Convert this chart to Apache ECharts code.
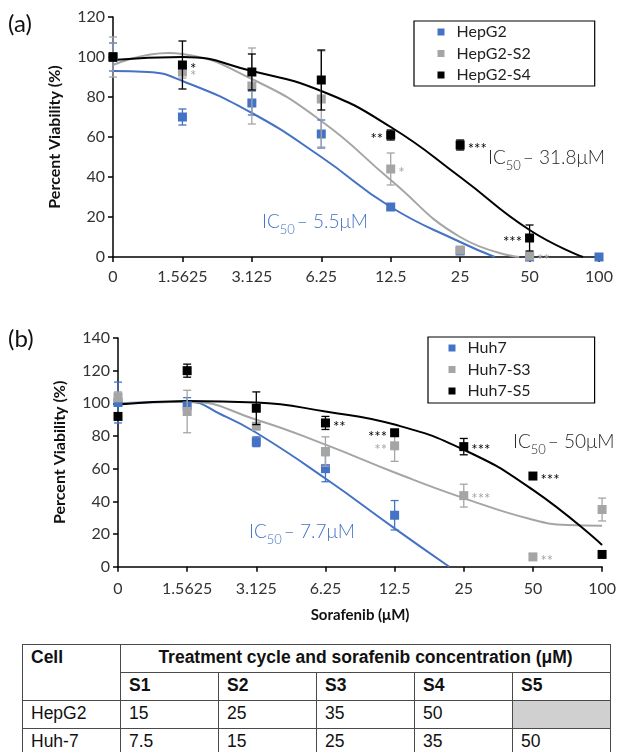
<!DOCTYPE html>
<html>
<head>
<meta charset="utf-8">
<script src="https://cdn.jsdelivr.net/npm/echarts@6/dist/echarts.min.js"></script>
<style>
  body { margin: 0; background: #fff; }
  #chart { position: absolute; left: 0; top: 0; width: 619px; height: 640px; }
  #tbl {
    position: absolute; left: 22px; top: 644px; width: 589px;
    border-collapse: collapse; table-layout: fixed;
    font-family: "Liberation Sans", Arial, sans-serif; font-size: 17.5px; color: #111;
  }
  #tbl td { border: 1.5px solid #4a4a4a; padding: 0 8px 3px 8px; height: 24px; vertical-align: middle; white-space: nowrap; overflow: hidden; }
  #tbl .b { font-weight: bold; }
  #tbl .top { vertical-align: top; padding-top: 2px; }
  #tbl .c { text-align: center; }
  #tbl .gray { background: #d0d0d0; }
</style>
</head>
<body>
<div id="chart"></div>
<table id="tbl"></table>
<script>
// x categories (log2 dilution series of sorafenib, uM)
var doseLabels = ['0', '1.5625', '3.125', '6.25', '12.5', '25', '50', '100'];

// (a) HepG2 lines: mean viability and error
var hepG2 = [100, 70, 77, 61.5, 25, 3, 0, 0];
var hepG2Err = [7, 4, 6, 7, 1, 0, 0, 0];
var hepG2S2 = [100, 92.5, 85.5, 79, 44, 3.5, 0.5, null];
var hepG2S2Err = [10, 3, 19, 24, 8, 0, 0, 0];
var hepG2S4 = [100, 96, 92.5, 88.5, 61, 56, 9.5, null];
var hepG2S4Err = [2, 12, 9, 15, 2.5, 2.5, 6.5, 0];
var hepG2S2Stars = ['', '*', '', '', '*', '', '**', ''];
var hepG2S4Stars = ['', '*', '', '', '**', '***', '***', ''];

// (a) fitted curves [x index, viability]
var hepG2Fit = [[0, 93], [0.5, 92.5], [1, 88], [2, 72], [3, 50], [4, 25], [5, 7.5], [5.5, 0]];
var hepG2S2Fit = [[0, 96], [0.8, 102], [1, 101.5], [2, 89], [3, 68], [4, 38.5], [5, 10], [5.85, 0]];
var hepG2S4Fit = [[0, 98.5], [1, 100], [2, 93], [3, 83], [4, 65], [5, 40], [6, 13.5], [6.77, 0]];

// (b) Huh7 lines
var huh7 = [100.5, 98.5, 76.5, 60, 31.5, null, null, null];
var huh7Err = [12.5, 5, 3, 8, 9, 0, 0, 0];
var huh7S3 = [104, 95, 86, 70.5, 74, 43.5, 6, 35];
var huh7S3Err = [3, 13, 0, 9, 9.5, 7, 0, 7];
var huh7S5 = [92, 120, 97, 88, 82, 73.5, 55.5, 7.5];
var huh7S5Err = [0, 4, 10, 4, 0, 5, 0, 0];
var huh7S3Stars = ['', '', '', '', '**', '***', '**', ''];
var huh7S5Stars = ['', '', '', '**', '***', '***', '***', ''];

// (b) fitted curves
var huh7Fit = [[0, 100], [1, 101], [1.5, 93], [2, 82], [3, 54], [4, 23.5], [4.79, 0]];
var huh7S3Fit = [[0, 100], [1, 101], [2, 90], [3, 74.7], [4, 57.7], [5, 42], [6, 28.7], [6.5, 25.5], [7, 25]];
var huh7S5Fit = [[0, 99.3], [1, 101.5], [2, 100.5], [3, 95], [4, 87], [5, 71.6], [6, 47], [7, 13.3]];

// treatment table
var tableCycles = ['S1', 'S2', 'S3', 'S4', 'S5'];
var tableRows = [
  ['HepG2', ['15', '25', '35', '50', null]],
  ['Huh-7', ['7.5', '15', '25', '35', '50']]
];

var BLUE = '#4472C4', GREY = '#A5A5A5', BLACK = '#000000';
var FONT = 'Lato';

function fitLine(gi, pts, color) {
    return {
        type: 'line', xAxisIndex: gi, yAxisIndex: gi,
        data: pts, smooth: 0.5, symbol: 'none', silent: true,
        lineStyle: { color: color, width: 2 }, z: 2
    };
}

function errBars(gi, vals, errs, color, z) {
    var data = [];
    for (var i = 0; i < vals.length; i++) {
        if (vals[i] != null && errs[i] > 0) data.push([i, vals[i], errs[i]]);
    }
    return {
        type: 'custom', xAxisIndex: gi, yAxisIndex: gi, data: data, z: z, silent: true,
        renderItem: function (params, api) {
            var x = api.value(0), y = api.value(1), e = api.value(2);
            var t = api.coord([x, y + e]), b = api.coord([x, y - e]);
            var st = { stroke: color, lineWidth: 1.3 };
            return {
                type: 'group', children: [
                    { type: 'line', shape: { x1: t[0], y1: t[1], x2: b[0], y2: b[1] }, style: st },
                    { type: 'line', shape: { x1: t[0] - 4, y1: t[1], x2: t[0] + 4, y2: t[1] }, style: st },
                    { type: 'line', shape: { x1: b[0] - 4, y1: b[1], x2: b[0] + 4, y2: b[1] }, style: st }
                ]
            };
        }
    };
}

// leftOf: indexes whose star label sits left of the square
function points(name, gi, vals, stars, leftOf, color, z) {
    var data = [];
    for (var i = 0; i < vals.length; i++) {
        if (vals[i] == null) continue;
        var item = { value: [i, vals[i]] };
        if (stars && stars[i]) {
            item.label = {
                show: true, formatter: stars[i],
                position: leftOf.indexOf(i) >= 0 ? 'left' : 'right',
                distance: 3, offset: [0, 4],
                color: color, fontSize: 15, fontFamily: FONT
            };
        }
        data.push(item);
    }
    return {
        type: 'scatter', name: name, xAxisIndex: gi, yAxisIndex: gi,
        symbol: 'rect', symbolSize: 9, data: data, z: z,
        itemStyle: { color: color, opacity: 1 }
    };
}

function xAxis(gi, margin, name) {
    return {
        gridIndex: gi, type: 'value', min: 0, max: 7, interval: 1,
        name: name || '', nameLocation: 'middle', nameGap: 41,
        nameTextStyle: { fontFamily: FONT, fontWeight: 'bold', fontSize: 15, color: '#111' },
        axisLine: { lineStyle: { color: '#000', width: 1.5 } },
        axisTick: { show: true, length: 5, lineStyle: { color: '#000', width: 1.5 } },
        splitLine: { show: false },
        axisLabel: {
            margin: margin, fontFamily: FONT, fontSize: 16, color: '#333',
            formatter: function (v) { return doseLabels[v]; }
        }
    };
}

function yAxis(gi, max) {
    return {
        gridIndex: gi, type: 'value', min: 0, max: max, interval: 20,
        name: 'Percent Viability (%)', nameLocation: 'middle', nameGap: 50,
        nameTextStyle: { fontFamily: FONT, fontWeight: 'bold', fontSize: 16, color: '#111' },
        axisLine: { show: true, lineStyle: { color: '#000', width: 1.5 } },
        axisTick: { show: true, length: 5, lineStyle: { color: '#000', width: 1.5 } },
        splitLine: { show: false },
        axisLabel: { margin: 8, fontFamily: FONT, fontSize: 16, color: '#333' }
    };
}

function legend(names, left, top, padding) {
    return {
        data: names, orient: 'vertical', left: left, top: top,
        icon: 'rect', itemWidth: 7, itemHeight: 7, itemGap: 5.5,
        borderColor: '#000', borderWidth: 1.2, padding: padding,
        selectedMode: false,
        textStyle: { fontFamily: FONT, fontSize: 16, color: '#222', padding: [0, 0, 0, 7] }
    };
}

function icLabel(x, y, value, color) {
    return {
        type: 'text', x: x, y: y, silent: true,
        style: {
            text: '{m|IC}{s|50}{m|– ' + value + '}',
            verticalAlign: 'middle',
            rich: {
                m: { fontFamily: FONT, fontSize: 19, fontWeight: 300, fill: color, color: color, verticalAlign: 'bottom', padding: [0, 0, 5, 0] },
                s: { fontFamily: FONT, fontSize: 13, fontWeight: 300, fill: color, color: color, verticalAlign: 'bottom', padding: [0, 2, 0, 0] }
            }
        }
    };
}

var chart = echarts.init(document.getElementById('chart'));

var option = {
    animation: false,
    grid: [
        { left: 113, top: 17, width: 486, height: 240 },
        { left: 118, top: 338, width: 485, height: 228.7 }
    ],
    xAxis: [xAxis(0, 12), xAxis(1, 14, 'Sorafenib (μM)')],
    yAxis: [yAxis(0, 120), yAxis(1, 140)],
    legend: [
        legend(['HepG2', 'HepG2-S2', 'HepG2-S4'], 414, 21, [3, 64, 3, 23.5]),
        legend(['Huh7', 'Huh7-S3', 'Huh7-S5'], 428, 337, [3, 64, 4, 20.5])
    ],
    graphic: [
        { type: 'text', x: 8, y: 24, style: { text: '(a)', fontFamily: FONT, fontSize: 24, fill: '#111', verticalAlign: 'middle' } },
        { type: 'text', x: 8, y: 339, style: { text: '(b)', fontFamily: FONT, fontSize: 24, fill: '#111', verticalAlign: 'middle' } },
        icLabel(262, 224, '5.5μM', BLUE),
        icLabel(488, 160, '31.8μM', '#262626'),
        icLabel(249, 534, '7.7μM', BLUE),
        icLabel(513, 444, '50μM', '#262626')
    ],
    series: [
        fitLine(0, hepG2Fit, BLUE),
        fitLine(0, hepG2S2Fit, GREY),
        fitLine(0, hepG2S4Fit, BLACK),
        errBars(0, hepG2, hepG2Err, BLUE, 3),
        points('HepG2', 0, hepG2, null, [], BLUE, 3),
        errBars(0, hepG2S2, hepG2S2Err, GREY, 4),
        points('HepG2-S2', 0, hepG2S2, hepG2S2Stars, [], GREY, 4),
        errBars(0, hepG2S4, hepG2S4Err, BLACK, 5),
        points('HepG2-S4', 0, hepG2S4, hepG2S4Stars, [4, 6], BLACK, 5),

        fitLine(1, huh7Fit, BLUE),
        fitLine(1, huh7S3Fit, GREY),
        fitLine(1, huh7S5Fit, BLACK),
        errBars(1, huh7, huh7Err, BLUE, 3),
        points('Huh7', 1, huh7, null, [], BLUE, 3),
        errBars(1, huh7S3, huh7S3Err, GREY, 4),
        points('Huh7-S3', 1, huh7S3, huh7S3Stars, [4], GREY, 4),
        errBars(1, huh7S5, huh7S5Err, BLACK, 5),
        points('Huh7-S5', 1, huh7S5, huh7S5Stars, [4], BLACK, 5)
    ]
};

chart.setOption(option);

// table below the charts
var html = '<colgroup>' + '<col style="width:98px">'.repeat(6) + '</colgroup>';
html += '<tr><td class="b top" rowspan="2">Cell</td><td class="b c" colspan="5">Treatment cycle and sorafenib concentration (μM)</td></tr>';
html += '<tr>' + tableCycles.map(function (c) { return '<td class="b">' + c + '</td>'; }).join('') + '</tr>';
tableRows.forEach(function (r) {
    html += '<tr><td>' + r[0] + '</td>' + r[1].map(function (v) {
        return v == null ? '<td class="gray"></td>' : '<td>' + v + '</td>';
    }).join('') + '</tr>';
});
document.getElementById('tbl').innerHTML = html;
</script>
</body>
</html>
